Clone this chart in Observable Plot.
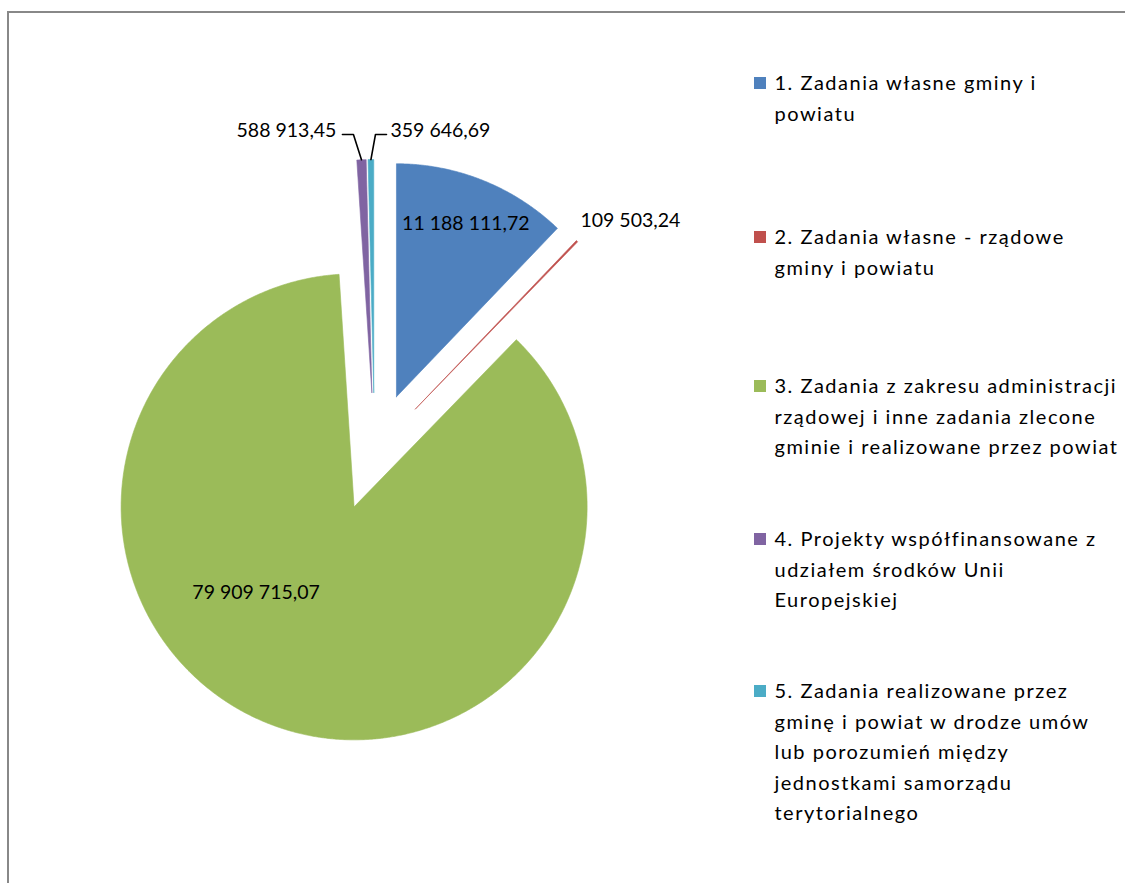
<!DOCTYPE html>
<html>
<head>
<meta charset="utf-8">
<script src="https://cdn.jsdelivr.net/npm/d3@7"></script>
<script src="https://cdn.jsdelivr.net/npm/@observablehq/plot@0.6"></script>
<style>
  body { margin: 0; background: #fff; font-family: Lato, "Open Sans", sans-serif; }
  #wrap { position: relative; width: 1125px; height: 883px; overflow: hidden; background: #fff; }
  #border { position: absolute; left: 7px; top: 11px; width: 1300px; height: 1100px; border: 2px solid #888; box-sizing: border-box; }
  #chart { position: absolute; left: 0; top: 0; }
  .item { position: absolute; left: 754px; display: flex; align-items: flex-start; font-size: 20px; letter-spacing: 1.5px; line-height: 30.5px; color: #000; white-space: nowrap; }
  .sw { width: 11.5px; height: 11.5px; margin-top: 10.1px; margin-right: 9px; flex: none; }
</style>
</head>
<body>
<div id="wrap">
  <div id="border"></div>
  <div id="chart"></div>
  <div id="legend"></div>
</div>
<script>
// ---------- data ----------
const categories = [
  "1. Zadania własne gminy i powiatu",
  "2. Zadania własne - rządowe gminy i powiatu",
  "3. Zadania z zakresu administracji rządowej i inne zadania zlecone gminie i realizowane przez powiat",
  "4. Projekty współfinansowane z udziałem środków Unii Europejskiej",
  "5. Zadania realizowane przez gminę i powiat w drodze umów lub porozumień między jednostkami samorządu terytorialnego"
];
const values = [11188111.72, 109503.24, 79909715.07, 588913.45, 359646.69];
const legendLines = [
  ["1. Zadania własne gminy i", "powiatu"],
  ["2. Zadania własne - rządowe", "gminy i powiatu"],
  ["3. Zadania z zakresu administracji", "rządowej i inne zadania zlecone", "gminie i realizowane przez powiat"],
  ["4. Projekty współfinansowane z", "udziałem środków Unii", "Europejskiej"],
  ["5. Zadania realizowane przez", "gminę i powiat w drodze umów", "lub porozumień między", "jednostkami samorządu", "terytorialnego"]
];
const colors = ["#4F81BD", "#C0504D", "#9BBB59", "#8064A2", "#4BACC6"];

// ---------- layout ----------
const W = 1125, H = 883;
const CX = 374, CY = 451;       // pie centre in pixels
const R = 233, EXPLODE = 59;
// label placement relative to each exploded slice centre: angle (deg, null = bisector), radius fraction, anchor
const labelLayout = [
  {angle: null, rf: 0.80, anchor: "middle"},
  {angle: 41.3, rf: 1.073, anchor: "start"},
  {angle: 228.7, rf: 0.56, anchor: "middle"},
  {angle: 352.3, rf: 1.135, anchor: "end", leader: true},
  {angle: 3.65, rf: 1.127, anchor: "start", leader: true}
];
const legendBaselines = [90, 244, 393, 546, 698];
const LABEL_FONT = 19.5;

const fmt = d3.formatLocale({decimal: ",", thousands: " ", grouping: [3], currency: ["", ""]}).format(",.2f");

const rows = categories.map((name, i) => ({name, value: values[i]}));
const arcs = d3.pie().sort(null).value(d => d.value)(rows);

const slicePts = [];
const labels = [];
const leaders = [];
arcs.forEach((a, i) => {
  const mid = (a.startAngle + a.endAngle) / 2;
  const ox = EXPLODE * Math.sin(mid), oy = EXPLODE * Math.cos(mid);
  const name = a.data.name;
  slicePts.push({name, x: ox, y: oy});
  const n = Math.max(4, Math.ceil((a.endAngle - a.startAngle) / 0.005));
  for (let k = 0; k <= n; k++) {
    const t = a.startAngle + (a.endAngle - a.startAngle) * k / n;
    slicePts.push({name, x: ox + R * Math.sin(t), y: oy + R * Math.cos(t)});
  }
  slicePts.push({name, x: ox, y: oy});
  const L = labelLayout[i];
  const ang = L.angle == null ? mid : L.angle * Math.PI / 180;
  const tx = ox + L.rf * R * Math.sin(ang), ty = oy + L.rf * R * Math.cos(ang);
  labels.push({name, x: tx, y: ty, text: fmt(a.value), anchor: L.anchor});
  if (L.leader) {
    const px = ox + R * Math.sin(mid), py = oy + R * Math.cos(mid);
    const ly = ty - 4;
    const elbow = L.anchor === "end" ? tx + 17 : tx - 15;
    const end = L.anchor === "end" ? tx + 6 : tx - 4;
    leaders.push({name, x: px, y: py}, {name, x: elbow, y: ly}, {name, x: end, y: ly});
  }
});

const plot = Plot.plot({
  width: W, height: H,
  margin: 0,
  x: {domain: [-CX, W - CX], axis: null},
  y: {domain: [-(H - CY), CY], axis: null},
  color: {domain: categories, range: colors},
  style: {fontFamily: "Lato, 'Open Sans', sans-serif", background: "transparent", overflow: "visible"},
  marks: [
    Plot.line(slicePts, {x: "x", y: "y", z: "name", fill: "name", stroke: "name", strokeWidth: 0.6, curve: "linear-closed"}),
    Plot.line(leaders, {x: "x", y: "y", z: "name", stroke: "#000", strokeWidth: 1.6, curve: "linear"}),
    Plot.text(labels.filter(d => d.anchor === "middle"), {x: "x", y: "y", text: "text", fontSize: LABEL_FONT, fill: "#000", textAnchor: "middle"}),
    Plot.text(labels.filter(d => d.anchor === "start"), {x: "x", y: "y", text: "text", fontSize: LABEL_FONT, fill: "#000", textAnchor: "start"}),
    Plot.text(labels.filter(d => d.anchor === "end"), {x: "x", y: "y", text: "text", fontSize: LABEL_FONT, fill: "#000", textAnchor: "end"})
  ]
});
document.getElementById("chart").appendChild(plot);

// legend (HTML)
const legend = document.getElementById("legend");
categories.forEach((c, i) => {
  const item = document.createElement("div");
  item.className = "item";
  item.style.top = (legendBaselines[i] - 23) + "px";
  const sw = document.createElement("div");
  sw.className = "sw";
  sw.style.background = colors[i];
  const txt = document.createElement("div");
  txt.innerHTML = legendLines[i].join("<br>");
  item.appendChild(sw);
  item.appendChild(txt);
  legend.appendChild(item);
});
</script>
</body>
</html>
